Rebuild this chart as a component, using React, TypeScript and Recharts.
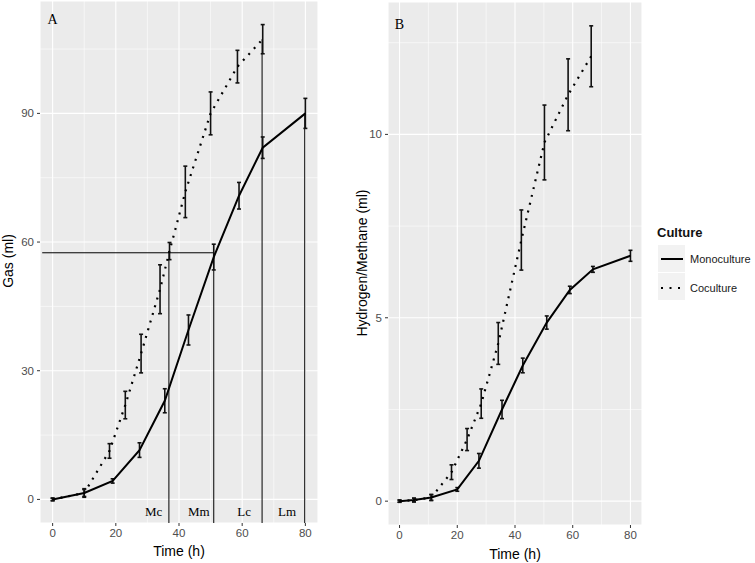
import {
  ComposedChart,
  Line,
  XAxis,
  YAxis,
  CartesianGrid,
  ErrorBar,
  ReferenceLine,
  ReferenceDot,
} from 'recharts'

// panel A: total gas
const timeMonoA = [0, 10, 19, 27.5, 35.5, 43, 51, 59, 66.5, 80]
const gasMono = [0, 1.5, 4.3, 11.5, 23, 39.5, 56.5, 70.8, 82, 90]
const gasMonoErr = [0.3, 1, 0.5, 1.7, 2.8, 3.5, 3, 3.1, 2.5, 3.5]
const timeCoA = [0, 10, 18, 23, 28, 34, 37, 42, 50, 58.5, 66.5]
const gasCo = [0, 1.5, 11.3, 22, 34, 49, 57.9, 71.7, 90, 100.9, 107.3]
const gasCoErr = [0.3, 0.8, 1.7, 3.2, 4.5, 5.7, 2, 6, 5, 3.8, 3.4]

// panel B: hydrogen/methane
const timeMonoB = [0, 5, 11, 20, 27.5, 35.5, 42.7, 51, 59, 67, 80]
const h2Mono = [0, 0.03, 0.1, 0.32, 1.1, 2.5, 3.7, 4.87, 5.76, 6.32, 6.69]
const h2MonoErr = [0.03, 0.05, 0.08, 0.05, 0.2, 0.25, 0.2, 0.18, 0.1, 0.08, 0.15]
const timeCoB = [0, 5, 11, 18, 23.4, 28.3, 34.2, 42.2, 50.2, 58.4, 66.4]
const h2Co = [0, 0.03, 0.1, 0.79, 1.68, 2.66, 4.3, 7.12, 9.78, 11.08, 12.13]
const h2CoErr = [0.03, 0.05, 0.08, 0.2, 0.3, 0.4, 0.57, 0.82, 1.02, 0.98, 0.83]

// axes
const xTicks = [0, 20, 40, 60, 80]
const xMinor = [10, 30, 50, 70]
const yTicksA = [0, 30, 60, 90]
const yMinorA = [15, 45, 75, 105]
const yTicksB = [0, 5, 10]
const yMinorB = [2.5, 7.5, 12.5]

// annotations on panel A
const markNames = ['Mc', 'Mm', 'Lc', 'Lm']
const markX = [36.8, 51, 66.3, 79.8]
const markTop = [57.9, 57.5, 107.3, 90]
const markLabelX = [32, 46.3, 60.6, 74.2]
const markLabelY = -2.8
const hLineY = 57.5
const hLineFrom = -3.3

const SANS = '"Liberation Sans", Arial, sans-serif'
const SERIF = '"Liberation Serif", "Times New Roman", serif'
const PANEL = '#EBEBEB'

function rows(t: number[], v: number[], e: number[]) {
  return t.map((x, i) => ({ t: x, v: v[i], e: e[i] }))
}

const tickStyle = { fill: '#4D4D4D', fontSize: 11.5, fontFamily: SANS }

function Panel({
  width,
  margin,
  yDomain,
  yTicks,
  yMinor,
  mono,
  co,
  label,
  labelY,
  children,
}: any) {
  return (
    <ComposedChart width={width} height={563} margin={margin}>
      <CartesianGrid fill={PANEL} fillOpacity={1} stroke="#fff" strokeWidth={1.1} />
      {xMinor.map((x) => (
        <ReferenceLine key={'vx' + x} x={x} stroke="#fff" strokeWidth={0.55} />
      ))}
      {yMinor.map((y: number) => (
        <ReferenceLine key={'hy' + y} y={y} stroke="#fff" strokeWidth={0.55} />
      ))}
      <XAxis
        type="number"
        dataKey="t"
        domain={[-4, 84]}
        ticks={xTicks}
        allowDataOverflow
        axisLine={false}
        tickSize={3}
        tickLine={{ stroke: '#333' }}
        tick={tickStyle}
        tickMargin={3}
        height={20}
      />
      <YAxis
        type="number"
        domain={yDomain}
        ticks={yTicks}
        allowDataOverflow
        axisLine={false}
        tickSize={3}
        tickLine={{ stroke: '#333' }}
        tick={tickStyle}
        tickMargin={3}
        width={30}
      />
      {children}
      <Line
        data={co}
        dataKey="v"
        type="linear"
        stroke="#000"
        strokeWidth={2.2}
        strokeDasharray="2 6"
        dot={false}
        isAnimationActive={false}
      >
        <ErrorBar dataKey="e" direction="y" width={2} stroke="#111" strokeWidth={1.6} />
      </Line>
      <Line
        data={mono}
        dataKey="v"
        type="linear"
        stroke="#000"
        strokeWidth={2}
        dot={false}
        isAnimationActive={false}
      >
        <ErrorBar dataKey="e" direction="y" width={2} stroke="#111" strokeWidth={1.6} />
      </Line>
      <ReferenceDot
        x={0}
        y={labelY}
        r={0}
        shape={(p: any) => (
          <text x={p.cx} y={p.cy} textAnchor="middle" dominantBaseline="central" fontSize={14} fontFamily={SERIF} fill="#000">
            {label}
          </text>
        )}
      />
    </ComposedChart>
  )
}

export default function App() {
  return (
    <div style={{ position: 'absolute', left: 0, top: 0, width: 755, height: 563, background: '#fff', fontFamily: SANS }}>
      <div style={{ position: 'absolute', left: 0, top: 0 }}>
        <Panel
          width={330}
          margin={{ top: 1, right: 12, bottom: 20, left: 10 }}
          yDomain={[-5.5, 116.2]}
          yTicks={yTicksA}
          yMinor={yMinorA}
          mono={rows(timeMonoA, gasMono, gasMonoErr)}
          co={rows(timeCoA, gasCo, gasCoErr)}
          label="A"
          labelY={112}
        >
          {markX.map((x, i) => (
            <ReferenceLine
              key={'m' + i}
              segment={[
                { x, y: markTop[i] },
                { x, y: -5.5 },
              ]}
              stroke="#000"
              strokeWidth={1}
            />
          ))}
          <ReferenceLine
            segment={[
              { x: hLineFrom, y: hLineY },
              { x: markX[1], y: hLineY },
            ]}
            stroke="#000"
            strokeWidth={1}
          />
          {markNames.map((n, i) => (
            <ReferenceDot
              key={n}
              x={markLabelX[i]}
              y={markLabelY}
              r={0}
              shape={(p: any) => (
                <text x={p.cx} y={p.cy} textAnchor="middle" dominantBaseline="central" fontSize={13} fontFamily={SERIF} fill="#000">
                  {n}
                </text>
              )}
            />
          ))}
        </Panel>
      </div>
      <div style={{ position: 'absolute', left: 340, top: 0 }}>
        <Panel
          width={310}
          margin={{ top: 2, right: 8, bottom: 18, left: 18 }}
          yDomain={[-0.65, 13.61]}
          yTicks={yTicksB}
          yMinor={yMinorB}
          mono={rows(timeMonoB, h2Mono, h2MonoErr)}
          co={rows(timeCoB, h2Co, h2CoErr)}
          label="B"
          labelY={13.0}
        />
      </div>

      {/* axis titles */}
      <div style={{ position: 'absolute', left: 179, top: 551, transform: 'translate(-50%,-50%)', fontSize: 14, whiteSpace: 'nowrap' }}>
        Time (h)
      </div>
      <div style={{ position: 'absolute', left: 515, top: 554, transform: 'translate(-50%,-50%)', fontSize: 14, whiteSpace: 'nowrap' }}>
        Time (h)
      </div>
      <div style={{ position: 'absolute', left: 8, top: 261, transform: 'translate(-50%,-50%) rotate(-90deg)', fontSize: 14, whiteSpace: 'nowrap' }}>
        Gas (ml)
      </div>
      <div style={{ position: 'absolute', left: 362, top: 263, transform: 'translate(-50%,-50%) rotate(-90deg)', fontSize: 14, whiteSpace: 'nowrap' }}>
        Hydrogen/Methane (ml)
      </div>

      {/* legend */}
      <div style={{ position: 'absolute', left: 657, top: 225, fontSize: 13, fontWeight: 'bold', color: '#111' }}>Culture</div>
      <svg style={{ position: 'absolute', left: 657, top: 245 }} width={98} height={58}>
        <rect x={1} y={0} width={27} height={27} fill="#F2F2F2" />
        <rect x={1} y={28} width={27} height={27} fill="#F2F2F2" />
        <line x1={4} x2={26} y1={14} y2={14} stroke="#000" strokeWidth={2} />
        <line x1={4} x2={26} y1={43} y2={43} stroke="#000" strokeWidth={2.2} strokeDasharray="2 6.5" />
        <text x={33} y={18} fontSize={11} fontFamily={SANS} fill="#1a1a1a">Monoculture</text>
        <text x={33} y={47} fontSize={11} fontFamily={SANS} fill="#1a1a1a">Coculture</text>
      </svg>
    </div>
  )
}
